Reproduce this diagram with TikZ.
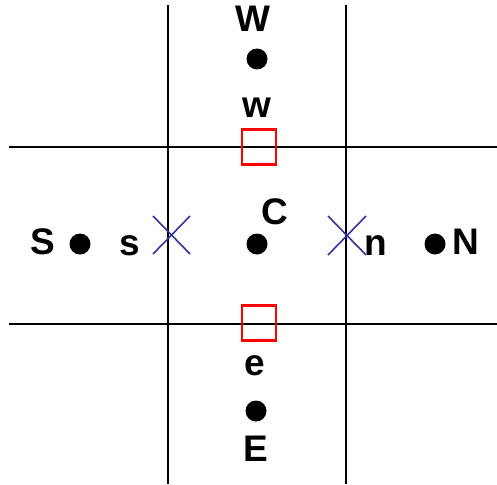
\documentclass[tikz,border=0pt]{standalone}
\usepackage{fontspec}
\setmainfont{Liberation Sans}
\begin{document}
\begin{tikzpicture}[x=1pt,y=-1pt,
  gridline/.style={black,line width=2pt},
  face/.style={draw=red,line width=2.6pt,minimum width=34pt,minimum height=35pt,inner sep=0pt},
  pt/.style={circle,fill=black,inner sep=0pt,minimum width=19pt,minimum height=21pt},
  lbl/.style={inner sep=0pt,font=\fontsize{37}{37}\selectfont\bfseries},
  crossline/.style={draw={rgb,255:red,51;green,51;blue,153},line width=1.6pt}]
\useasboundingbox (0,0) rectangle (497,484);
% grid lines
\coordinate (h1a) at (9,147); \coordinate (h1b) at (497,147);
\coordinate (h2a) at (9,324); \coordinate (h2b) at (497,324);
\coordinate (v1a) at (168,5); \coordinate (v1b) at (168,484);
\coordinate (v2a) at (346,5); \coordinate (v2b) at (346,484);
\draw[gridline] (h1a) -- (h1b);
\draw[gridline] (h2a) -- (h2b);
\draw[gridline] (v1a) -- (v1b);
\draw[gridline] (v2a) -- (v2b);
% faces
\node[face] (fw) at (259,147) {};
\node[face] (fe) at (259,323) {};
% crosses
\coordinate (xs1) at (153,216); \coordinate (xs2) at (190,254);
\coordinate (xs3) at (153,254); \coordinate (xs4) at (190,216);
\draw[crossline] (xs1) -- (xs2); \draw[crossline] (xs3) -- (xs4);
\coordinate (xn1) at (328,216); \coordinate (xn2) at (366,255);
\coordinate (xn3) at (328,255); \coordinate (xn4) at (366,216);
\draw[crossline] (xn1) -- (xn2); \draw[crossline] (xn3) -- (xn4);
% points
\node[pt] (Wp) at (257,59) {};
\node[pt] (Cp) at (257,244) {};
\node[pt] (Sp) at (80,244) {};
\node[pt] (Np) at (435,244) {};
\node[pt] (Ep) at (256,411) {};
% labels
\node[lbl] (W) at (253,19) {W};
\node[lbl] (w) at (257,108) {w};
\node[lbl] (C) at (275,212) {C};
\node[lbl] (S) at (43,242) {S};
\node[lbl] (s) at (130,246) {s};
\node[lbl] (n) at (376,246) {n};
\node[lbl] (N) at (466,242) {N};
\node[lbl] (e) at (255,366) {e};
\node[lbl] (E) at (256,449) {E};
\end{tikzpicture}
\end{document}
